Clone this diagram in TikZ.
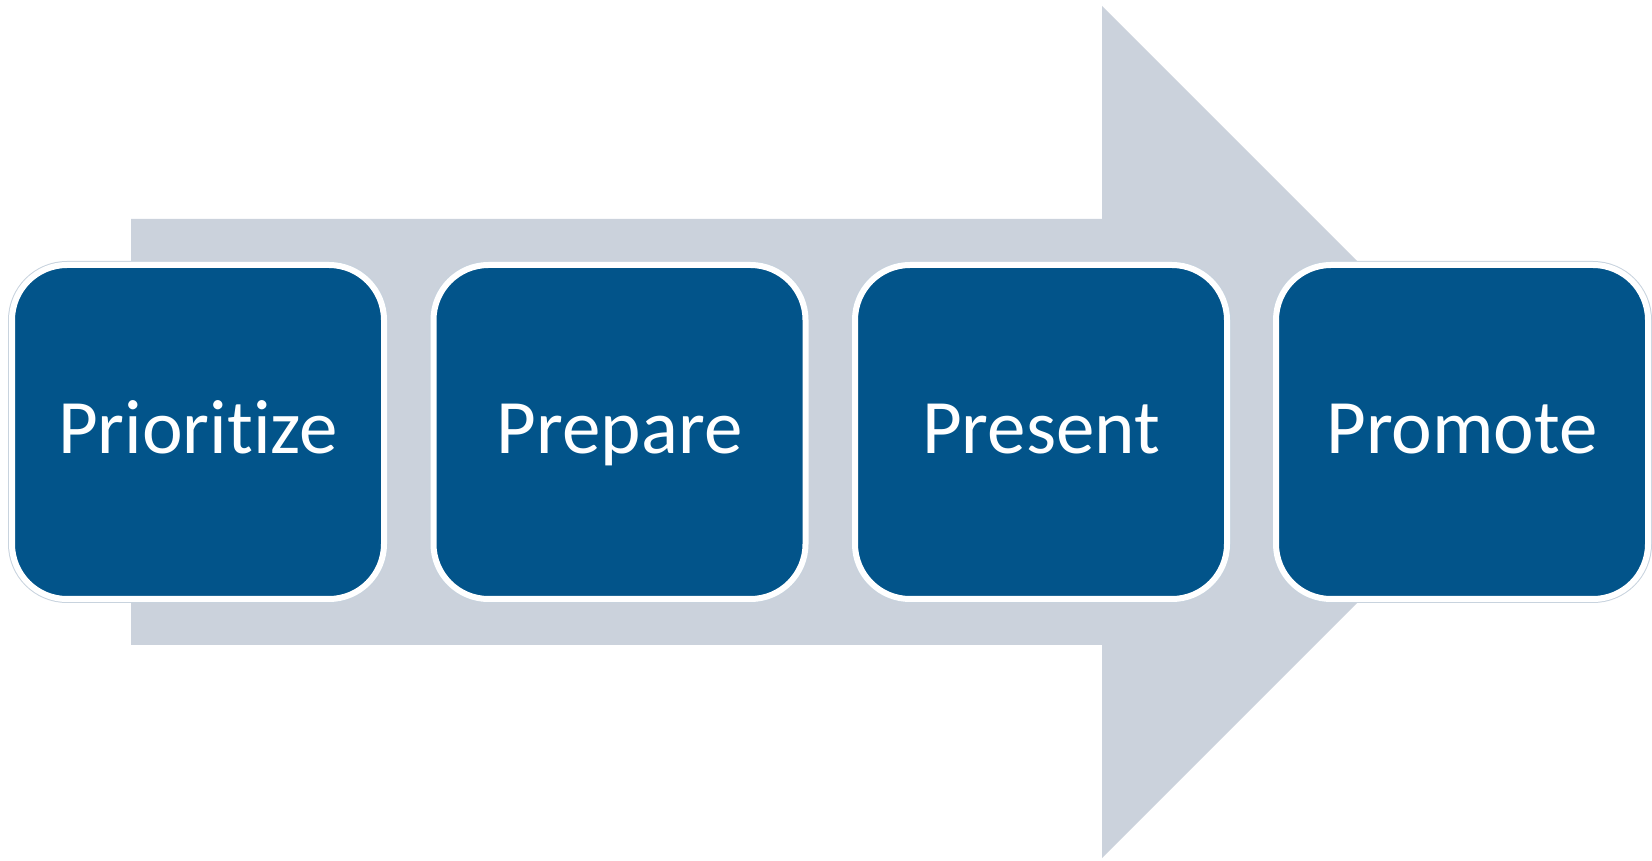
\documentclass[tikz,border=0pt]{standalone}
\usepackage{fontspec}
\setmainfont{Carlito}[Ligatures=NoCommon]
\definecolor{boxblue}{HTML}{02548A}
\definecolor{arrowgray}{HTML}{CBD2DC}
\definecolor{rimc}{HTML}{C8D3DE}
\begin{document}
\begin{tikzpicture}[x=1pt,y=1pt,
  stepbox/.style={rectangle, rounded corners=55pt, fill=boxblue, draw=white, line width=6pt,
    preaction={draw=rimc, line width=8pt},
    minimum width=372pt, minimum height=334pt, inner sep=0pt,
    text height=44pt, text depth=0pt,
    text=white, font=\fontsize{77}{80}\selectfont}]
\useasboundingbox (0,0) rectangle (1652,860);
\fill[arrowgray] (131,641) -- (1102,641) -- (1102,854) -- (1528,428) -- (1102,2) -- (1102,215) -- (131,215) -- cycle;
\node[stepbox] (s1) at (198,428) {Prioritize};
\node[stepbox] (s2) at (619.5,428) {Prepare};
\node[stepbox] (s3) at (1041,428) {Present};
\node[stepbox] (s4) at (1462,428) {Promote};
\end{tikzpicture}
\end{document}
